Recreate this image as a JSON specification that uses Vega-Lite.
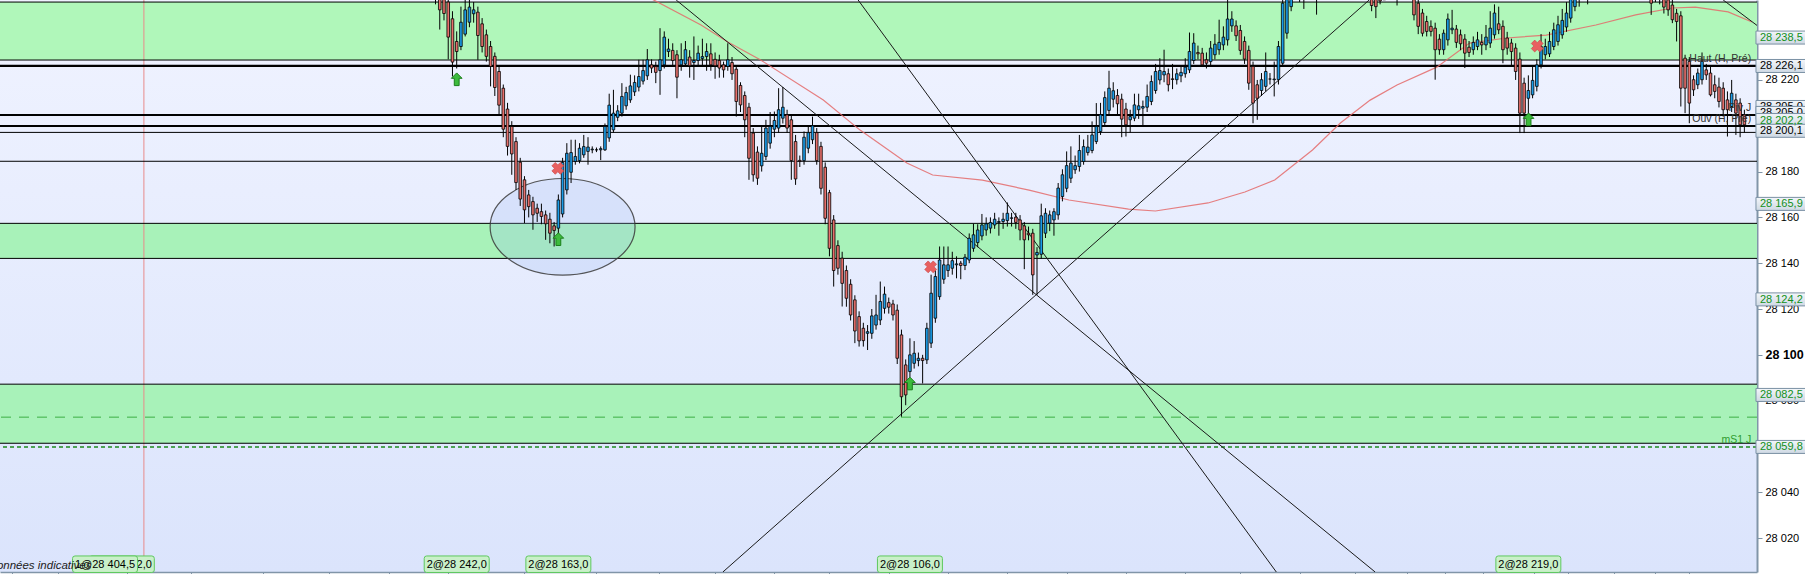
{
  "$schema": "https://vega.github.io/schema/vega-lite/v6.json",
  "description": "Intraday candlestick chart, levels, trend lines and moving average",
  "width": 1757,
  "height": 572,
  "autosize": {"type": "none"},
  "padding": {"left": 0, "top": 0, "right": 48, "bottom": 2},
  "background": "#ffffff",
  "resolve": {"axis": {"x": "independent", "y": "independent"}},
  "config": {
    "font": "Liberation Sans",
    "locale": {"number": {"decimal": ",", "thousands": " ", "grouping": [3], "currency": ["", " €"]}},
    "view": {
      "stroke": null,
      "fill": {"gradient": "linear", "x1": 0, "y1": 0, "x2": 0, "y2": 1, "stops": [{"offset": 0, "color": "#f0f3ff"}, {"offset": 1, "color": "#dbe4fc"}]}
    }
  },
  "datasets": {
    "candles": [
      {"i":0,"o":28262,"h":28266,"l":28253,"c":28258},
      {"i":1,"o":28257,"h":28262,"l":28242,"c":28250.6},
      {"i":2,"o":28256,"h":28259,"l":28246,"c":28249},
      {"i":3,"o":28254,"h":28257,"l":28229,"c":28238.7},
      {"i":4,"o":28246.7,"h":28250,"l":28221.5,"c":28227.8},
      {"i":5,"o":28236.8,"h":28241.2,"l":28225,"c":28232.4},
      {"i":6,"o":28234.6,"h":28252,"l":28233,"c":28245.2},
      {"i":7,"o":28240,"h":28256,"l":28239,"c":28250.6},
      {"i":8,"o":28245.2,"h":28256,"l":28243,"c":28251.8},
      {"i":9,"o":28248.9,"h":28254,"l":28245,"c":28250.6},
      {"i":10,"o":28249.6,"h":28252,"l":28228.8,"c":28239.4},
      {"i":11,"o":28244.5,"h":28247,"l":28232,"c":28234.6},
      {"i":12,"o":28239.7,"h":28242,"l":28228,"c":28230.3},
      {"i":13,"o":28234.6,"h":28237,"l":28217.2,"c":28225.9},
      {"i":14,"o":28230.3,"h":28232,"l":28213,"c":28216.7},
      {"i":15,"o":28223.7,"h":28226,"l":28205,"c":28209},
      {"i":16,"o":28216.4,"h":28218,"l":28195,"c":28198.5},
      {"i":17,"o":28207.3,"h":28210,"l":28187,"c":28191},
      {"i":18,"o":28199.7,"h":28202,"l":28178.6,"c":28187.7},
      {"i":19,"o":28193.1,"h":28195,"l":28172,"c":28175.2},
      {"i":20,"o":28184.1,"h":28186,"l":28165,"c":28168},
      {"i":21,"o":28176.4,"h":28178,"l":28157.5,"c":28163.3},
      {"i":22,"o":28169.8,"h":28172,"l":28160,"c":28164.7},
      {"i":23,"o":28166.9,"h":28169,"l":28154.6,"c":28161.1},
      {"i":24,"o":28164,"h":28166,"l":28158,"c":28161.8},
      {"i":25,"o":28162.5,"h":28166,"l":28157,"c":28160.4},
      {"i":26,"o":28161.1,"h":28163,"l":28150.2,"c":28157.2},
      {"i":27,"o":28159.2,"h":28162,"l":28148.7,"c":28153.1},
      {"i":28,"o":28156.3,"h":28158,"l":28147.3,"c":28154.3},
      {"i":29,"o":28155.3,"h":28170,"l":28153,"c":28167.6},
      {"i":30,"o":28161.5,"h":28186,"l":28160,"c":28184},
      {"i":31,"o":28172,"h":28192.4,"l":28170,"c":28188},
      {"i":32,"o":28179.7,"h":28193.9,"l":28175,"c":28188.3},
      {"i":33,"o":28184.4,"h":28193.9,"l":28183,"c":28186.6},
      {"i":34,"o":28184.8,"h":28192.4,"l":28183.6,"c":28190.2},
      {"i":35,"o":28187.3,"h":28196,"l":28186,"c":28190.9},
      {"i":36,"o":28188.8,"h":28195,"l":28183,"c":28190.7},
      {"i":37,"o":28189.5,"h":28191,"l":28188,"c":28189.8},
      {"i":38,"o":28189.5,"h":28190.5,"l":28188.5,"c":28189.5},
      {"i":39,"o":28189.5,"h":28191,"l":28185,"c":28190},
      {"i":40,"o":28189.5,"h":28201,"l":28189,"c":28199.7},
      {"i":41,"o":28194.7,"h":28214,"l":28193,"c":28209},
      {"i":42,"o":28198.2,"h":28215.7,"l":28197,"c":28205.5},
      {"i":43,"o":28203.7,"h":28209,"l":28202,"c":28206.5},
      {"i":44,"o":28205.5,"h":28218.6,"l":28204,"c":28212.8},
      {"i":45,"o":28208.7,"h":28217,"l":28207,"c":28214.5},
      {"i":46,"o":28211.3,"h":28222.3,"l":28210,"c":28217.4},
      {"i":47,"o":28214.8,"h":28222,"l":28213,"c":28218.9},
      {"i":48,"o":28216.9,"h":28228.8,"l":28215,"c":28221.5},
      {"i":49,"o":28219.5,"h":28228.8,"l":28218,"c":28224.1},
      {"i":50,"o":28221.8,"h":28233.5,"l":28220,"c":28228.8},
      {"i":51,"o":28226.6,"h":28229,"l":28223,"c":28225.2},
      {"i":52,"o":28225.9,"h":28228,"l":28218.6,"c":28223.3},
      {"i":53,"o":28224.1,"h":28242.6,"l":28213.5,"c":28228.8},
      {"i":54,"o":28226.6,"h":28241.2,"l":28225,"c":28238.7},
      {"i":55,"o":28232.4,"h":28238,"l":28230,"c":28233.5},
      {"i":56,"o":28232.9,"h":28236,"l":28226,"c":28228.5},
      {"i":57,"o":28231,"h":28233,"l":28212,"c":28221.2},
      {"i":58,"o":28226.6,"h":28236,"l":28224,"c":28228.8},
      {"i":59,"o":28227,"h":28237,"l":28226,"c":28233.2},
      {"i":60,"o":28230,"h":28233,"l":28221,"c":28226.2},
      {"i":61,"o":28227.6,"h":28239,"l":28220,"c":28228.5},
      {"i":62,"o":28228.5,"h":28235,"l":28226,"c":28231.7},
      {"i":63,"o":28229.4,"h":28238,"l":28226,"c":28230.2},
      {"i":64,"o":28230.2,"h":28236,"l":28224,"c":28232.4},
      {"i":65,"o":28231.4,"h":28236,"l":28224,"c":28226.6},
      {"i":66,"o":28229,"h":28232,"l":28220.5,"c":28226.2},
      {"i":67,"o":28228.5,"h":28231,"l":28221,"c":28225.2},
      {"i":68,"o":28226.6,"h":28228,"l":28221,"c":28224.4},
      {"i":69,"o":28225.9,"h":28236,"l":28224,"c":28228.8},
      {"i":70,"o":28227.6,"h":28230,"l":28220,"c":28222.7},
      {"i":71,"o":28224.7,"h":28226,"l":28204,"c":28210.6},
      {"i":72,"o":28217.6,"h":28219,"l":28206,"c":28209.1},
      {"i":73,"o":28213.2,"h":28215,"l":28195,"c":28202.6},
      {"i":74,"o":28208.1,"h":28210,"l":28176.4,"c":28185.8},
      {"i":75,"o":28196.8,"h":28199,"l":28175.6,"c":28178.6},
      {"i":76,"o":28188.5,"h":28191,"l":28174.2,"c":28177.1},
      {"i":77,"o":28182.5,"h":28200,"l":28180,"c":28188},
      {"i":78,"o":28186.6,"h":28202.6,"l":28185,"c":28199},
      {"i":79,"o":28192.4,"h":28206,"l":28190,"c":28199.7},
      {"i":80,"o":28198.5,"h":28206.2,"l":28195,"c":28202.3},
      {"i":81,"o":28199,"h":28216.4,"l":28197,"c":28207},
      {"i":82,"o":28203.3,"h":28216.9,"l":28201,"c":28208.1},
      {"i":83,"o":28204.8,"h":28207,"l":28197,"c":28199},
      {"i":84,"o":28202.6,"h":28205,"l":28176.4,"c":28184.8},
      {"i":85,"o":28193.1,"h":28196,"l":28174.2,"c":28176.8},
      {"i":86,"o":28184.9,"h":28187,"l":28182,"c":28184.4},
      {"i":87,"o":28184.8,"h":28197.5,"l":28183,"c":28195},
      {"i":88,"o":28190.2,"h":28200,"l":28188,"c":28197},
      {"i":89,"o":28193.9,"h":28204,"l":28192,"c":28200},
      {"i":90,"o":28197,"h":28199,"l":28183,"c":28184.8},
      {"i":91,"o":28191,"h":28193,"l":28170,"c":28172.7},
      {"i":92,"o":28181.9,"h":28184,"l":28157,"c":28159.6},
      {"i":93,"o":28170.8,"h":28172,"l":28143,"c":28146.5},
      {"i":94,"o":28158.9,"h":28161,"l":28129.8,"c":28136.8},
      {"i":95,"o":28147.7,"h":28150,"l":28135,"c":28137.8},
      {"i":96,"o":28142.2,"h":28145,"l":28121.1,"c":28131.2},
      {"i":97,"o":28136.8,"h":28139,"l":28121,"c":28124.7},
      {"i":98,"o":28130.8,"h":28133,"l":28115,"c":28117.4},
      {"i":99,"o":28124,"h":28126,"l":28105.1,"c":28110.4},
      {"i":100,"o":28116.7,"h":28119,"l":28103.6,"c":28106.1},
      {"i":101,"o":28111.6,"h":28114,"l":28103.6,"c":28106.2},
      {"i":102,"o":28109.4,"h":28113,"l":28102.1,"c":28110.1},
      {"i":103,"o":28109.4,"h":28120,"l":28107,"c":28117},
      {"i":104,"o":28113,"h":28126.2,"l":28111,"c":28117.4},
      {"i":105,"o":28115.2,"h":28132,"l":28113,"c":28123.3},
      {"i":106,"o":28120.3,"h":28129.8,"l":28118,"c":28126.5},
      {"i":107,"o":28122.8,"h":28125,"l":28118,"c":28120.8},
      {"i":108,"o":28122.2,"h":28124,"l":28115,"c":28117.4},
      {"i":109,"o":28119.5,"h":28122,"l":28096,"c":28098.5},
      {"i":110,"o":28108.7,"h":28111,"l":28073,"c":28081.7},
      {"i":111,"o":28095.6,"h":28098,"l":28078,"c":28082.5},
      {"i":112,"o":28092.7,"h":28107.2,"l":28090,"c":28100},
      {"i":113,"o":28096.3,"h":28106,"l":28094,"c":28100.7},
      {"i":114,"o":28097.5,"h":28101,"l":28095,"c":28098.5},
      {"i":115,"o":28098.5,"h":28100,"l":28087.5,"c":28097.5},
      {"i":116,"o":28097.8,"h":28114,"l":28096,"c":28111.6},
      {"i":117,"o":28105.1,"h":28135,"l":28103,"c":28126.9},
      {"i":118,"o":28116,"h":28137,"l":28114,"c":28134.2},
      {"i":119,"o":28125.4,"h":28147.3,"l":28124,"c":28141.4},
      {"i":120,"o":28133,"h":28147.3,"l":28131,"c":28139.3},
      {"i":121,"o":28136.8,"h":28147.3,"l":28134,"c":28139.3},
      {"i":122,"o":28137.8,"h":28145,"l":28135,"c":28141.1},
      {"i":123,"o":28139.3,"h":28143,"l":28133.4,"c":28139.7},
      {"i":124,"o":28140,"h":28141,"l":28133,"c":28139},
      {"i":125,"o":28139,"h":28144,"l":28137,"c":28142.6},
      {"i":126,"o":28141.4,"h":28153,"l":28140,"c":28150.9},
      {"i":127,"o":28146.5,"h":28157.2,"l":28145,"c":28152.4},
      {"i":128,"o":28149,"h":28157,"l":28147,"c":28154.5},
      {"i":129,"o":28151.9,"h":28161.5,"l":28150,"c":28156.7},
      {"i":130,"o":28154.5,"h":28160,"l":28152,"c":28157.2},
      {"i":131,"o":28155.3,"h":28160,"l":28153,"c":28157.8},
      {"i":132,"o":28156.7,"h":28162,"l":28155,"c":28159.2},
      {"i":133,"o":28157.8,"h":28160,"l":28152,"c":28158.2},
      {"i":134,"o":28158.2,"h":28162,"l":28155,"c":28159.2},
      {"i":135,"o":28158.6,"h":28166.5,"l":28156,"c":28161.8},
      {"i":136,"o":28159.6,"h":28162,"l":28156,"c":28159.8},
      {"i":137,"o":28160.1,"h":28162,"l":28155,"c":28157.8},
      {"i":138,"o":28158.9,"h":28161,"l":28150,"c":28154.5},
      {"i":139,"o":28156.3,"h":28158,"l":28137.4,"c":28150.2},
      {"i":140,"o":28153.1,"h":28156,"l":28150,"c":28152.4},
      {"i":141,"o":28153.1,"h":28155,"l":28126.2,"c":28134.9},
      {"i":142,"o":28143.6,"h":28147,"l":28126.2,"c":28144.7},
      {"i":143,"o":28143.9,"h":28166,"l":28142,"c":28160.7},
      {"i":144,"o":28153.1,"h":28164,"l":28151,"c":28161.8},
      {"i":145,"o":28157.5,"h":28163,"l":28154,"c":28161.1},
      {"i":146,"o":28158.9,"h":28164,"l":28152,"c":28162.5},
      {"i":147,"o":28161.1,"h":28175,"l":28159,"c":28172.8},
      {"i":148,"o":28169.1,"h":28181,"l":28167,"c":28178.6},
      {"i":149,"o":28172.7,"h":28188.8,"l":28171,"c":28182.6},
      {"i":150,"o":28177.1,"h":28191,"l":28175,"c":28183.7},
      {"i":151,"o":28180.8,"h":28187,"l":28179,"c":28182.6},
      {"i":152,"o":28182.2,"h":28196,"l":28180,"c":28189.2},
      {"i":153,"o":28184.4,"h":28194,"l":28183,"c":28190.9},
      {"i":154,"o":28188.3,"h":28196,"l":28187,"c":28190.7},
      {"i":155,"o":28189.2,"h":28201.9,"l":28188,"c":28196},
      {"i":156,"o":28193.1,"h":28209.9,"l":28192,"c":28199.7},
      {"i":157,"o":28197.5,"h":28210,"l":28196,"c":28204.8},
      {"i":158,"o":28201.4,"h":28215,"l":28200,"c":28212.3},
      {"i":159,"o":28206.7,"h":28224,"l":28205,"c":28216.4},
      {"i":160,"o":28211.6,"h":28219,"l":28208,"c":28215.3},
      {"i":161,"o":28213.2,"h":28216,"l":28205,"c":28209.6},
      {"i":162,"o":28211.6,"h":28214,"l":28195,"c":28202.9},
      {"i":163,"o":28207.3,"h":28210,"l":28195.3,"c":28200.4},
      {"i":164,"o":28202.6,"h":28207,"l":28197,"c":28204},
      {"i":165,"o":28203.3,"h":28214,"l":28202,"c":28209.1},
      {"i":166,"o":28207,"h":28214,"l":28203,"c":28208.7},
      {"i":167,"o":28207.7,"h":28211,"l":28200,"c":28208.4},
      {"i":168,"o":28208.1,"h":28218,"l":28206,"c":28212.8},
      {"i":169,"o":28210.6,"h":28222,"l":28209,"c":28219.3},
      {"i":170,"o":28215.4,"h":28227,"l":28214,"c":28223.7},
      {"i":171,"o":28220,"h":28229.5,"l":28218,"c":28224.1},
      {"i":172,"o":28222.2,"h":28233.2,"l":28219,"c":28223.7},
      {"i":173,"o":28222.7,"h":28225,"l":28215,"c":28217.9},
      {"i":174,"o":28220.5,"h":28227,"l":28216,"c":28220.2},
      {"i":175,"o":28220.1,"h":28225,"l":28218,"c":28222.7},
      {"i":176,"o":28221.8,"h":28226,"l":28219,"c":28223.3},
      {"i":177,"o":28222.7,"h":28229.5,"l":28221,"c":28225.6},
      {"i":178,"o":28224.4,"h":28240.7,"l":28223,"c":28232.4},
      {"i":179,"o":28228.5,"h":28240.4,"l":28227,"c":28236.1},
      {"i":180,"o":28232,"h":28235,"l":28229,"c":28231.4},
      {"i":181,"o":28231.7,"h":28234,"l":28225.9,"c":28226.6},
      {"i":182,"o":28228.8,"h":28232,"l":28225,"c":28227.3},
      {"i":183,"o":28228,"h":28237,"l":28226,"c":28233.9},
      {"i":184,"o":28231,"h":28240,"l":28229,"c":28235.6},
      {"i":185,"o":28233.2,"h":28246.3,"l":28231,"c":28236.4},
      {"i":186,"o":28235.3,"h":28243.4,"l":28233,"c":28238.7},
      {"i":187,"o":28237.5,"h":28255,"l":28235,"c":28246.6},
      {"i":188,"o":28243.6,"h":28250,"l":28241,"c":28246.6},
      {"i":189,"o":28243.6,"h":28246,"l":28237,"c":28239.3},
      {"i":190,"o":28241.6,"h":28244,"l":28231,"c":28232.9},
      {"i":191,"o":28236.8,"h":28239,"l":28227,"c":28229.1},
      {"i":192,"o":28232.9,"h":28235,"l":28215.7,"c":28218.6},
      {"i":193,"o":28225.9,"h":28228,"l":28201.1,"c":28209.9},
      {"i":194,"o":28217.9,"h":28220,"l":28202.6,"c":28212},
      {"i":195,"o":28215.4,"h":28223,"l":28213,"c":28220.1},
      {"i":196,"o":28217.2,"h":28232,"l":28215,"c":28223.7},
      {"i":197,"o":28220.4,"h":28223,"l":28218,"c":28220.4},
      {"i":198,"o":28220.1,"h":28228,"l":28212.8,"c":28220.4},
      {"i":199,"o":28220.1,"h":28237,"l":28218,"c":28234.6},
      {"i":200,"o":28227.3,"h":28257,"l":28226,"c":28253.5},
      {"i":201,"o":28240.4,"h":28261,"l":28238,"c":28258},
      {"i":202,"o":28252,"h":28265,"l":28250,"c":28262},
      {"i":203,"o":28262,"h":28268,"l":28257,"c":28266},
      {"i":204,"o":28266,"h":28270,"l":28254,"c":28262},
      {"i":205,"o":28262,"h":28266,"l":28251,"c":28259},
      {"i":206,"o":28259,"h":28265,"l":28256,"c":28264},
      {"i":207,"o":28264,"h":28268,"l":28255,"c":28260},
      {"i":208,"o":28260,"h":28264,"l":28248.5,"c":28262},
      {"i":209,"o":28262,"h":28270,"l":28260,"c":28268},
      {"i":210,"o":28268,"h":28274,"l":28264,"c":28272},
      {"i":211,"o":28272,"h":28276,"l":28266,"c":28269},
      {"i":212,"o":28269,"h":28274,"l":28264,"c":28271},
      {"i":213,"o":28271,"h":28278,"l":28268,"c":28276},
      {"i":214,"o":28276,"h":28280,"l":28270,"c":28273},
      {"i":215,"o":28273,"h":28277,"l":28268,"c":28270},
      {"i":216,"o":28270,"h":28274,"l":28264,"c":28266},
      {"i":217,"o":28266,"h":28270,"l":28261,"c":28268},
      {"i":218,"o":28268,"h":28272,"l":28262,"c":28264},
      {"i":219,"o":28264,"h":28268,"l":28258,"c":28262},
      {"i":220,"o":28262,"h":28266,"l":28256,"c":28261},
      {"i":221,"o":28261,"h":28264,"l":28250,"c":28252.5},
      {"i":222,"o":28259,"h":28262,"l":28247,"c":28252},
      {"i":223,"o":28257,"h":28261,"l":28253,"c":28254.5},
      {"i":224,"o":28255,"h":28262,"l":28255,"c":28260},
      {"i":225,"o":28260,"h":28266,"l":28257,"c":28264},
      {"i":226,"o":28264,"h":28268,"l":28258,"c":28261},
      {"i":227,"o":28261,"h":28265,"l":28252.5,"c":28263},
      {"i":228,"o":28263,"h":28268,"l":28259,"c":28266},
      {"i":229,"o":28266,"h":28269,"l":28260,"c":28262},
      {"i":230,"o":28262,"h":28265,"l":28255,"c":28258},
      {"i":231,"o":28258,"h":28262,"l":28246,"c":28248.4},
      {"i":232,"o":28253.5,"h":28256,"l":28240,"c":28243.4},
      {"i":233,"o":28249.2,"h":28251,"l":28239,"c":28240.4},
      {"i":234,"o":28245.5,"h":28248,"l":28239,"c":28241.2},
      {"i":235,"o":28243.4,"h":28246,"l":28239,"c":28241.2},
      {"i":236,"o":28242.6,"h":28245,"l":28220.1,"c":28233.2},
      {"i":237,"o":28237.8,"h":28240,"l":28231,"c":28233.2},
      {"i":238,"o":28233.2,"h":28242,"l":28231,"c":28240.4},
      {"i":239,"o":28237.5,"h":28249,"l":28235,"c":28246.6},
      {"i":240,"o":28241.9,"h":28250.6,"l":28240,"c":28242.6},
      {"i":241,"o":28242.2,"h":28244,"l":28234,"c":28236.4},
      {"i":242,"o":28239.7,"h":28242,"l":28233,"c":28235.8},
      {"i":243,"o":28237.8,"h":28240,"l":28225.2,"c":28231.7},
      {"i":244,"o":28234.3,"h":28237,"l":28230,"c":28232},
      {"i":245,"o":28233.2,"h":28239,"l":28231,"c":28236.4},
      {"i":246,"o":28234.6,"h":28241,"l":28233,"c":28237.5},
      {"i":247,"o":28236.4,"h":28240,"l":28231,"c":28235.3},
      {"i":248,"o":28235.3,"h":28244,"l":28233,"c":28238.7},
      {"i":249,"o":28236.1,"h":28250,"l":28234,"c":28242.6},
      {"i":250,"o":28239.7,"h":28253,"l":28238,"c":28249.2},
      {"i":251,"o":28244.5,"h":28252,"l":28240,"c":28241.9},
      {"i":252,"o":28243.4,"h":28246,"l":28227.3,"c":28233.2},
      {"i":253,"o":28238.3,"h":28241,"l":28231,"c":28233.9},
      {"i":254,"o":28236.1,"h":28238,"l":28226,"c":28232.4},
      {"i":255,"o":28233.9,"h":28236,"l":28220,"c":28223.7},
      {"i":256,"o":28229.1,"h":28232,"l":28196.8,"c":28205.5},
      {"i":257,"o":28218.6,"h":28221,"l":28196.8,"c":28205.5},
      {"i":258,"o":28212,"h":28222,"l":28204,"c":28215.4},
      {"i":259,"o":28213.5,"h":28226,"l":28212,"c":28219.8},
      {"i":260,"o":28217.2,"h":28229,"l":28215,"c":28226.6},
      {"i":261,"o":28226.6,"h":28240,"l":28225,"c":28234.6},
      {"i":262,"o":28231,"h":28238,"l":28229,"c":28234.6},
      {"i":263,"o":28231.4,"h":28241,"l":28230,"c":28236.8},
      {"i":264,"o":28234.6,"h":28245,"l":28233,"c":28241.9},
      {"i":265,"o":28236.8,"h":28248,"l":28235,"c":28244.1},
      {"i":266,"o":28239.7,"h":28251,"l":28238,"c":28246},
      {"i":267,"o":28243.1,"h":28254,"l":28241,"c":28249.2},
      {"i":268,"o":28247,"h":28260,"l":28245,"c":28256},
      {"i":269,"o":28252,"h":28263,"l":28250,"c":28260},
      {"i":270,"o":28260,"h":28264,"l":28252,"c":28262},
      {"i":271,"o":28262,"h":28268,"l":28258,"c":28266},
      {"i":272,"o":28266,"h":28270,"l":28253,"c":28263},
      {"i":273,"o":28263,"h":28269,"l":28260,"c":28268},
      {"i":274,"o":28268,"h":28274,"l":28264,"c":28272},
      {"i":275,"o":28272,"h":28276,"l":28267,"c":28270},
      {"i":276,"o":28270,"h":28275,"l":28265,"c":28273},
      {"i":277,"o":28273,"h":28278,"l":28270,"c":28276},
      {"i":278,"o":28276,"h":28280,"l":28271,"c":28274},
      {"i":279,"o":28274,"h":28278,"l":28268,"c":28271},
      {"i":280,"o":28271,"h":28275,"l":28266,"c":28273},
      {"i":281,"o":28273,"h":28276,"l":28268,"c":28270},
      {"i":282,"o":28270,"h":28274,"l":28265,"c":28267},
      {"i":283,"o":28267,"h":28272,"l":28263,"c":28270},
      {"i":284,"o":28270,"h":28273,"l":28264,"c":28266},
      {"i":285,"o":28266,"h":28270,"l":28260,"c":28263},
      {"i":286,"o":28263,"h":28266,"l":28257,"c":28260},
      {"i":287,"o":28260,"h":28263,"l":28248.4,"c":28253.5},
      {"i":288,"o":28256,"h":28262,"l":28254,"c":28260},
      {"i":289,"o":28260,"h":28264,"l":28253,"c":28257},
      {"i":290,"o":28257,"h":28260,"l":28249,"c":28251.8},
      {"i":291,"o":28255,"h":28258,"l":28248,"c":28250.6},
      {"i":292,"o":28252.7,"h":28255,"l":28244.8,"c":28246.3},
      {"i":293,"o":28249.1,"h":28251,"l":28236.8,"c":28245.5},
      {"i":294,"o":28248,"h":28250,"l":28208.4,"c":28216.4},
      {"i":295,"o":28229.5,"h":28231,"l":28205.5,"c":28216.4},
      {"i":296,"o":28228.1,"h":28230,"l":28201.1,"c":28209.9},
      {"i":297,"o":28220.1,"h":28222,"l":28213,"c":28215.7},
      {"i":298,"o":28217.9,"h":28225,"l":28216,"c":28223},
      {"i":299,"o":28220.1,"h":28232,"l":28218,"c":28228.1},
      {"i":300,"o":28224.4,"h":28227,"l":28220,"c":28222.2},
      {"i":301,"o":28223,"h":28226,"l":28212.8,"c":28213.5},
      {"i":302,"o":28217.9,"h":28222,"l":28212,"c":28215},
      {"i":303,"o":28216.9,"h":28221,"l":28208,"c":28210.6},
      {"i":304,"o":28216.4,"h":28219,"l":28204,"c":28207},
      {"i":305,"o":28211.3,"h":28215,"l":28195.3,"c":28207},
      {"i":306,"o":28208.4,"h":28220,"l":28206,"c":28214.2},
      {"i":307,"o":28211.3,"h":28214,"l":28196,"c":28205.5},
      {"i":308,"o":28209.9,"h":28212,"l":28195,"c":28200.4},
      {"i":309,"o":28204.8,"h":28207,"l":28197,"c":28200.4}
    ],
    "ma": [
      {"i":49.77,"p":28256.6},{"i":62.68,"p":28244.0},{"i":69.01,"p":28236.6},{"i":76.76,"p":28228.7},
      {"i":91.55,"p":28211.2},{"i":100.23,"p":28198.1},{"i":111.27,"p":28183.7},{"i":117.37,"p":28178.5},
      {"i":129.11,"p":28176.3},{"i":140.14,"p":28171.9},{"i":149.53,"p":28167.6},{"i":163.62,"p":28163.6},
      {"i":169.95,"p":28162.8},{"i":182.39,"p":28166.3},{"i":191.08,"p":28171.1},{"i":198.12,"p":28176.3},
      {"i":207.04,"p":28189.4},{"i":213.62,"p":28201.2},{"i":220.66,"p":28211.2},{"i":226.99,"p":28217.8},
      {"i":236.38,"p":28225.6},{"i":244.13,"p":28236.1},{"i":252.82,"p":28238.3},{"i":262.21,"p":28239.6},
      {"i":273.94,"p":28244.0},{"i":283.33,"p":28248.4},{"i":292.02,"p":28251.4},{"i":297.42,"p":28251.8},
      {"i":305.16,"p":28249.7},{"i":310.8,"p":28245.3}
    ],
    "trend": [
      {"id":"t1","i":56.81,"p":28254.9},{"id":"t1","i":221.83,"p":28005.2},
      {"id":"t2","i":99.77,"p":28254.9},{"id":"t2","i":198.5,"p":28005.2},
      {"id":"t3","i":67.84,"p":28005.2},{"id":"t3","i":220.42,"p":28254.9},
      {"id":"t4","i":304.0,"p":28254.9},{"id":"t4","i":317.8,"p":28235.7}
    ],
    "levels": [
      {"p":28254.0,"k":"thin"},{"p":28228.7,"k":"thin"},{"p":28197.1,"k":"thin"},{"p":28184.5,"k":"thin"},
      {"p":28157.4,"k":"thin"},{"p":28142.1,"k":"thin"},{"p":28087.2,"k":"thin"},{"p":28061.4,"k":"thin"},
      {"p":28226.1,"k":"thick"},{"p":28204.7,"k":"thick"},{"p":28199.9,"k":"thick"},
      {"p":28072.8,"k":"dash"},{"p":28059.8,"k":"dot"}
    ],
    "bands": [
      {"top":28254.0,"bot":28228.7,"k":"top"},
      {"top":28157.4,"bot":28142.1,"k":"mid"},
      {"top":28087.2,"bot":28061.4,"k":"low"}
    ],
    "signals": [
      {"i":5.0,"p":28220.3,"k":"buy"},{"i":29.0,"p":28150.5,"k":"buy"},{"i":112.0,"p":28087.5,"k":"buy"},{"i":258.05,"p":28202.8,"k":"buy"},
      {"i":28.87,"p":28181.4,"k":"sell"},{"i":116.9,"p":28138.4,"k":"sell"},{"i":260.1,"p":28234.8,"k":"sell"}
    ],
    "notes": [
      {"t":"Haut (H, Pré)","p":28229.1,"k":"d"},
      {"t":"Piv J","p":28207.7,"k":"d"},
      {"t":"Ouv (H, Pré)","p":28202.8,"k":"d"},
      {"t":"mS1 J","p":28062.8,"k":"g"}
    ],
    "tags": [
      {"v":28208.2,"t":"28 205,0","k":"lvl","z":1},
      {"v":28205.6,"t":"28 205,0","k":"lvl","z":2},
      {"v":28238.5,"t":"28 238,5","k":"ind","z":3},
      {"v":28226.1,"t":"28 226,1","k":"lvl","z":3},
      {"v":28202.5,"t":"28 202,2","k":"ind","z":3},
      {"v":28197.8,"t":"28 200,1","k":"lvl","z":3},
      {"v":28165.9,"t":"28 165,9","k":"ind","z":3},
      {"v":28124.2,"t":"28 124,2","k":"ind","z":3},
      {"v":28082.5,"t":"28 082,5","k":"ind","z":3},
      {"v":28059.8,"t":"28 059,8","k":"ind","z":3}
    ],
    "orders": [
      {"i":-74.06,"t":"2@28 402,0","z":1},
      {"i":-78.03,"t":"1@28 404,5","z":2},
      {"i":5.0,"t":"2@28 242,0","z":2},
      {"i":29.0,"t":"2@28 163,0","z":2},
      {"i":112.0,"t":"2@28 106,0","z":2},
      {"i":258.0,"t":"2@28 219,0","z":2}
    ]
  },
  "layer": [
    {
      "data": {"name": "candles"},
      "mark": {"type": "rule", "opacity": 0},
      "encoding": {
        "x": {
          "field": "i", "type": "quantitative",
          "scale": {"domain": [-101.64, 310.8], "nice": false, "zero": false},
          "axis": {
            "orient": "bottom", "title": null, "labels": false, "grid": false, "tickSize": 3,
            "tickColor": "#8195a8", "domainColor": "#8195a8", "domainWidth": 1.5,
            "values": [-100.07, -89.06, -72.8, -57.8, -40.8, -25.1, -11.0, 3.05, 20.9, 37.8, 52.8, 66, 80, 93, 107, 121, 135, 149, 163, 177, 190, 204, 217, 229.3, 238.3, 247.2, 259.4, 267.4, 278.2, 288.0, 296.0]
          }
        },
        "y": {
          "field": "l", "type": "quantitative",
          "scale": {"domain": [28005.2, 28254.9], "nice": false, "zero": false},
          "axis": {
            "orient": "right", "title": null, "grid": false,
            "values": [28020, 28040, 28060, 28080, 28100, 28120, 28140, 28160, 28180, 28200, 28220, 28240],
            "format": ",d",
            "labelExpr": "datum.value == 28240 ? '' : datum.label",
            "labelFont": "Liberation Sans",
            "labelFontSize": {"condition": {"test": "datum.value == 28100", "value": 12.5}, "value": 11},
            "labelFontWeight": {"condition": {"test": "datum.value == 28100", "value": "bold"}, "value": "normal"},
            "labelColor": "#000000", "labelPadding": 3, "labelOverlap": false,
            "tickSize": 5, "tickColor": "#8195a8", "domainColor": "#8195a8", "domainWidth": 2
          }
        },
        "y2": {"field": "h"}
      }
    },
    {
      "data": {"name": "bands"},
      "mark": {"type": "rect"},
      "encoding": {
        "y": {"field": "top", "type": "quantitative", "scale": {"domain": [28005.2, 28254.9], "nice": false, "zero": false}, "axis": null},
        "y2": {"field": "bot"},
        "fill": {"condition": {"test": "datum.k == 'top'", "value": "#b0f7ba"}, "value": "#a8f2b9"}
      }
    },
    {
      "data": {"values": [{"i": -68.85}]},
      "mark": {"type": "rule", "color": "#e98b8b", "strokeWidth": 1},
      "encoding": {"x": {"field": "i", "type": "quantitative", "scale": {"domain": [-101.64, 310.8], "nice": false, "zero": false}, "axis": null}}
    },
    {
      "data": {"name": "levels"},
      "transform": [{"filter": "datum.k == 'thin'"}],
      "mark": {"type": "rule", "color": "#000000", "strokeWidth": 1},
      "encoding": {"y": {"field": "p", "type": "quantitative", "scale": {"domain": [28005.2, 28254.9], "nice": false, "zero": false}, "axis": null}}
    },
    {
      "data": {"name": "levels"},
      "transform": [{"filter": "datum.k == 'thick'"}],
      "mark": {"type": "rule", "color": "#000000", "strokeWidth": 2.2},
      "encoding": {"y": {"field": "p", "type": "quantitative", "scale": {"domain": [28005.2, 28254.9], "nice": false, "zero": false}, "axis": null}}
    },
    {
      "data": {"name": "levels"},
      "transform": [{"filter": "datum.k == 'dash'"}],
      "mark": {"type": "rule", "color": "#3cb043", "strokeWidth": 1, "strokeDash": [10, 8]},
      "encoding": {"y": {"field": "p", "type": "quantitative", "scale": {"domain": [28005.2, 28254.9], "nice": false, "zero": false}, "axis": null}}
    },
    {
      "data": {"name": "levels"},
      "transform": [{"filter": "datum.k == 'dot'"}],
      "mark": {"type": "rule", "color": "#1d8a1d", "strokeWidth": 1.4, "strokeDash": [4, 3]},
      "encoding": {"y": {"field": "p", "type": "quantitative", "scale": {"domain": [28005.2, 28254.9], "nice": false, "zero": false}, "axis": null}}
    },
    {
      "data": {"values": [{"i": 30.0, "p": 28155.9}]},
      "mark": {"type": "point", "filled": true, "shape": "M -1.5 0 C -1.5 -0.552 -0.828 -1 0 -1 C 0.828 -1 1.5 -0.552 1.5 0 C 1.5 0.552 0.828 1 0 1 C -0.828 1 -1.5 0.552 -1.5 0 Z", "size": 9332, "fill": "#96b4f0", "fillOpacity": 0.22, "stroke": "#3a3a3a", "strokeWidth": 1.2, "strokeOpacity": 0.85},
      "encoding": {
        "x": {"field": "i", "type": "quantitative", "scale": {"domain": [-101.64, 310.8], "nice": false, "zero": false}, "axis": null},
        "y": {"field": "p", "type": "quantitative", "scale": {"domain": [28005.2, 28254.9], "nice": false, "zero": false}, "axis": null}
      }
    },
    {
      "data": {"name": "ma"},
      "mark": {"type": "line", "color": "#e46a6a", "strokeWidth": 1.2, "opacity": 0.85, "clip": true},
      "encoding": {
        "x": {"field": "i", "type": "quantitative", "scale": {"domain": [-101.64, 310.8], "nice": false, "zero": false}, "axis": null},
        "y": {"field": "p", "type": "quantitative", "scale": {"domain": [28005.2, 28254.9], "nice": false, "zero": false}, "axis": null}
      }
    },
    {
      "data": {"name": "trend"},
      "mark": {"type": "line", "color": "#1a1a1a", "strokeWidth": 1, "clip": true},
      "encoding": {
        "x": {"field": "i", "type": "quantitative", "scale": {"domain": [-101.64, 310.8], "nice": false, "zero": false}, "axis": null},
        "y": {"field": "p", "type": "quantitative", "scale": {"domain": [28005.2, 28254.9], "nice": false, "zero": false}, "axis": null},
        "detail": {"field": "id", "type": "nominal"}
      }
    },
    {
      "data": {"name": "candles"},
      "mark": {"type": "rule", "color": "#000000", "strokeWidth": 1, "clip": true},
      "encoding": {
        "x": {"field": "i", "type": "quantitative", "scale": {"domain": [-101.64, 310.8], "nice": false, "zero": false}, "axis": null},
        "y": {"field": "l", "type": "quantitative", "scale": {"domain": [28005.2, 28254.9], "nice": false, "zero": false}, "axis": null},
        "y2": {"field": "h"}
      }
    },
    {
      "data": {"name": "candles"},
      "mark": {"type": "bar", "size": 2.6, "stroke": "#000000", "strokeWidth": 0.8, "clip": true},
      "encoding": {
        "x": {"field": "i", "type": "quantitative", "scale": {"domain": [-101.64, 310.8], "nice": false, "zero": false}, "axis": null},
        "y": {"field": "o", "type": "quantitative", "scale": {"domain": [28005.2, 28254.9], "nice": false, "zero": false}, "axis": null},
        "y2": {"field": "c"},
        "fill": {"condition": {"test": "datum.c >= datum.o", "value": "#1b9ce8"}, "value": "#e7706c"}
      }
    },
    {
      "data": {"name": "signals"},
      "transform": [{"filter": "datum.k == 'buy'"}],
      "mark": {"type": "point", "filled": true, "shape": "M 0 -1 L 0.84 -0.15 L 0.38 -0.15 L 0.38 1 L -0.38 1 L -0.38 -0.15 L -0.84 -0.15 Z", "size": 161, "fill": "#3dbb3d", "stroke": "#1b7f1b", "strokeWidth": 1, "opacity": 1},
      "encoding": {
        "x": {"field": "i", "type": "quantitative", "scale": {"domain": [-101.64, 310.8], "nice": false, "zero": false}, "axis": null},
        "y": {"field": "p", "type": "quantitative", "scale": {"domain": [28005.2, 28254.9], "nice": false, "zero": false}, "axis": null}
      }
    },
    {
      "data": {"name": "signals"},
      "transform": [{"filter": "datum.k == 'sell'"}],
      "mark": {"type": "point", "filled": true, "shape": "cross", "angle": 45, "size": 144, "fill": "#e86060", "stroke": "#c94545", "strokeWidth": 0.6, "opacity": 1},
      "encoding": {
        "x": {"field": "i", "type": "quantitative", "scale": {"domain": [-101.64, 310.8], "nice": false, "zero": false}, "axis": null},
        "y": {"field": "p", "type": "quantitative", "scale": {"domain": [28005.2, 28254.9], "nice": false, "zero": false}, "axis": null}
      }
    },
    {
      "data": {"name": "notes"},
      "mark": {"type": "text", "align": "right", "baseline": "middle", "font": "Liberation Sans", "fontSize": 10.5},
      "encoding": {
        "x": {"datum": 310.6, "type": "quantitative", "scale": {"domain": [-101.64, 310.8], "nice": false, "zero": false}, "axis": null},
        "y": {"field": "p", "type": "quantitative", "scale": {"domain": [28005.2, 28254.9], "nice": false, "zero": false}, "axis": null},
        "text": {"field": "t"},
        "color": {"condition": {"test": "datum.k == 'g'", "value": "#2e9b2e"}, "value": "#303030"}
      }
    },
    {
      "data": {"name": "tags"},
      "transform": [{"filter": "datum.z == 1"}],
      "layer": [
        {
          "mark": {"type": "point", "filled": true, "shape": "M 0 -0.5 L 6 -0.5 L 6 0.5 L 0 0.5 Z", "size": 676, "opacity": 1,
            "fill": {"gradient": "linear", "x1": 0, "y1": 0, "x2": 0, "y2": 1, "stops": [{"offset": 0, "color": "#f3f6fa"}, {"offset": 1, "color": "#cfd9e4"}]},
            "stroke": "#7a90a4", "strokeWidth": 1},
          "encoding": {
            "x": {"datum": 311.74, "type": "quantitative", "scale": {"domain": [-101.64, 310.8], "nice": false, "zero": false}, "axis": null},
            "y": {"field": "v", "type": "quantitative", "scale": {"domain": [28005.2, 28254.9], "nice": false, "zero": false}, "axis": null}
          }
        },
        {
          "mark": {"type": "text", "align": "left", "baseline": "middle", "font": "Liberation Sans", "fontSize": 11, "dy": 0.5},
          "encoding": {
            "x": {"datum": 312.68, "type": "quantitative", "scale": {"domain": [-101.64, 310.8], "nice": false, "zero": false}, "axis": null},
            "y": {"field": "v", "type": "quantitative", "scale": {"domain": [28005.2, 28254.9], "nice": false, "zero": false}, "axis": null},
            "text": {"field": "t"},
            "color": {"condition": {"test": "datum.k == 'ind'", "value": "#12901a"}, "value": "#000000"}
          }
        }
      ]
    },
    {
      "data": {"name": "tags"},
      "transform": [{"filter": "datum.z == 2"}],
      "layer": [
        {
          "mark": {"type": "point", "filled": true, "shape": "M 0 -0.5 L 6 -0.5 L 6 0.5 L 0 0.5 Z", "size": 676, "opacity": 1,
            "fill": {"gradient": "linear", "x1": 0, "y1": 0, "x2": 0, "y2": 1, "stops": [{"offset": 0, "color": "#f3f6fa"}, {"offset": 1, "color": "#cfd9e4"}]},
            "stroke": "#7a90a4", "strokeWidth": 1},
          "encoding": {
            "x": {"datum": 311.74, "type": "quantitative", "scale": {"domain": [-101.64, 310.8], "nice": false, "zero": false}, "axis": null},
            "y": {"field": "v", "type": "quantitative", "scale": {"domain": [28005.2, 28254.9], "nice": false, "zero": false}, "axis": null}
          }
        },
        {
          "mark": {"type": "text", "align": "left", "baseline": "middle", "font": "Liberation Sans", "fontSize": 11, "dy": 0.5},
          "encoding": {
            "x": {"datum": 312.68, "type": "quantitative", "scale": {"domain": [-101.64, 310.8], "nice": false, "zero": false}, "axis": null},
            "y": {"field": "v", "type": "quantitative", "scale": {"domain": [28005.2, 28254.9], "nice": false, "zero": false}, "axis": null},
            "text": {"field": "t"},
            "color": {"condition": {"test": "datum.k == 'ind'", "value": "#12901a"}, "value": "#000000"}
          }
        }
      ]
    },
    {
      "data": {"name": "tags"},
      "transform": [{"filter": "datum.z == 3"}],
      "layer": [
        {
          "mark": {"type": "point", "filled": true, "shape": "M 0 -0.5 L 6 -0.5 L 6 0.5 L 0 0.5 Z", "size": 676, "opacity": 1,
            "fill": {"gradient": "linear", "x1": 0, "y1": 0, "x2": 0, "y2": 1, "stops": [{"offset": 0, "color": "#f3f6fa"}, {"offset": 1, "color": "#cfd9e4"}]},
            "stroke": "#7a90a4", "strokeWidth": 1},
          "encoding": {
            "x": {"datum": 311.74, "type": "quantitative", "scale": {"domain": [-101.64, 310.8], "nice": false, "zero": false}, "axis": null},
            "y": {"field": "v", "type": "quantitative", "scale": {"domain": [28005.2, 28254.9], "nice": false, "zero": false}, "axis": null}
          }
        },
        {
          "mark": {"type": "text", "align": "left", "baseline": "middle", "font": "Liberation Sans", "fontSize": 11, "dy": 0.5},
          "encoding": {
            "x": {"datum": 312.68, "type": "quantitative", "scale": {"domain": [-101.64, 310.8], "nice": false, "zero": false}, "axis": null},
            "y": {"field": "v", "type": "quantitative", "scale": {"domain": [28005.2, 28254.9], "nice": false, "zero": false}, "axis": null},
            "text": {"field": "t"},
            "color": {"condition": {"test": "datum.k == 'ind'", "value": "#12901a"}, "value": "#000000"}
          }
        }
      ]
    },
    {
      "data": {"name": "orders"},
      "transform": [{"filter": "datum.z == 1"}],
      "layer": [
        {
          "mark": {"type": "point", "filled": true, "opacity": 1, "size": 272, "fill": "#c9f0c9", "stroke": "#5ec85e", "strokeWidth": 1,
            "shape": "M -3.64 -1 L 3.64 -1 Q 3.94 -1 3.94 -0.7 L 3.94 0.7 Q 3.94 1 3.64 1 L -3.64 1 Q -3.94 1 -3.94 0.7 L -3.94 -0.7 Q -3.94 -1 -3.64 -1 Z"},
          "encoding": {
            "x": {"field": "i", "type": "quantitative", "scale": {"domain": [-101.64, 310.8], "nice": false, "zero": false}, "axis": null},
            "y": {"datum": 28008.6, "type": "quantitative", "scale": {"domain": [28005.2, 28254.9], "nice": false, "zero": false}, "axis": null}
          }
        },
        {
          "mark": {"type": "text", "align": "center", "baseline": "middle", "font": "Liberation Sans", "fontSize": 11, "color": "#000000", "dy": 0.5},
          "encoding": {
            "x": {"field": "i", "type": "quantitative", "scale": {"domain": [-101.64, 310.8], "nice": false, "zero": false}, "axis": null},
            "y": {"datum": 28008.6, "type": "quantitative", "scale": {"domain": [28005.2, 28254.9], "nice": false, "zero": false}, "axis": null},
            "text": {"field": "t"}
          }
        }
      ]
    },
    {
      "data": {"name": "orders"},
      "transform": [{"filter": "datum.z == 2"}],
      "layer": [
        {
          "mark": {"type": "point", "filled": true, "opacity": 1, "size": 272, "fill": "#c9f0c9", "stroke": "#5ec85e", "strokeWidth": 1,
            "shape": "M -3.64 -1 L 3.64 -1 Q 3.94 -1 3.94 -0.7 L 3.94 0.7 Q 3.94 1 3.64 1 L -3.64 1 Q -3.94 1 -3.94 0.7 L -3.94 -0.7 Q -3.94 -1 -3.64 -1 Z"},
          "encoding": {
            "x": {"field": "i", "type": "quantitative", "scale": {"domain": [-101.64, 310.8], "nice": false, "zero": false}, "axis": null},
            "y": {"datum": 28008.6, "type": "quantitative", "scale": {"domain": [28005.2, 28254.9], "nice": false, "zero": false}, "axis": null}
          }
        },
        {
          "mark": {"type": "text", "align": "center", "baseline": "middle", "font": "Liberation Sans", "fontSize": 11, "color": "#000000", "dy": 0.5},
          "encoding": {
            "x": {"field": "i", "type": "quantitative", "scale": {"domain": [-101.64, 310.8], "nice": false, "zero": false}, "axis": null},
            "y": {"datum": 28008.6, "type": "quantitative", "scale": {"domain": [28005.2, 28254.9], "nice": false, "zero": false}, "axis": null},
            "text": {"field": "t"}
          }
        }
      ]
    },
    {
      "data": {"values": [{"t": "Données indicatives"}]},
      "mark": {"type": "text", "align": "right", "baseline": "middle", "font": "Liberation Sans", "fontSize": 11.5, "fontStyle": "italic", "color": "#222222"},
      "encoding": {
        "x": {"datum": -81.22, "type": "quantitative", "scale": {"domain": [-101.64, 310.8], "nice": false, "zero": false}, "axis": null},
        "y": {"datum": 28007.7, "type": "quantitative", "scale": {"domain": [28005.2, 28254.9], "nice": false, "zero": false}, "axis": null},
        "text": {"field": "t"}
      }
    }
  ]
}
